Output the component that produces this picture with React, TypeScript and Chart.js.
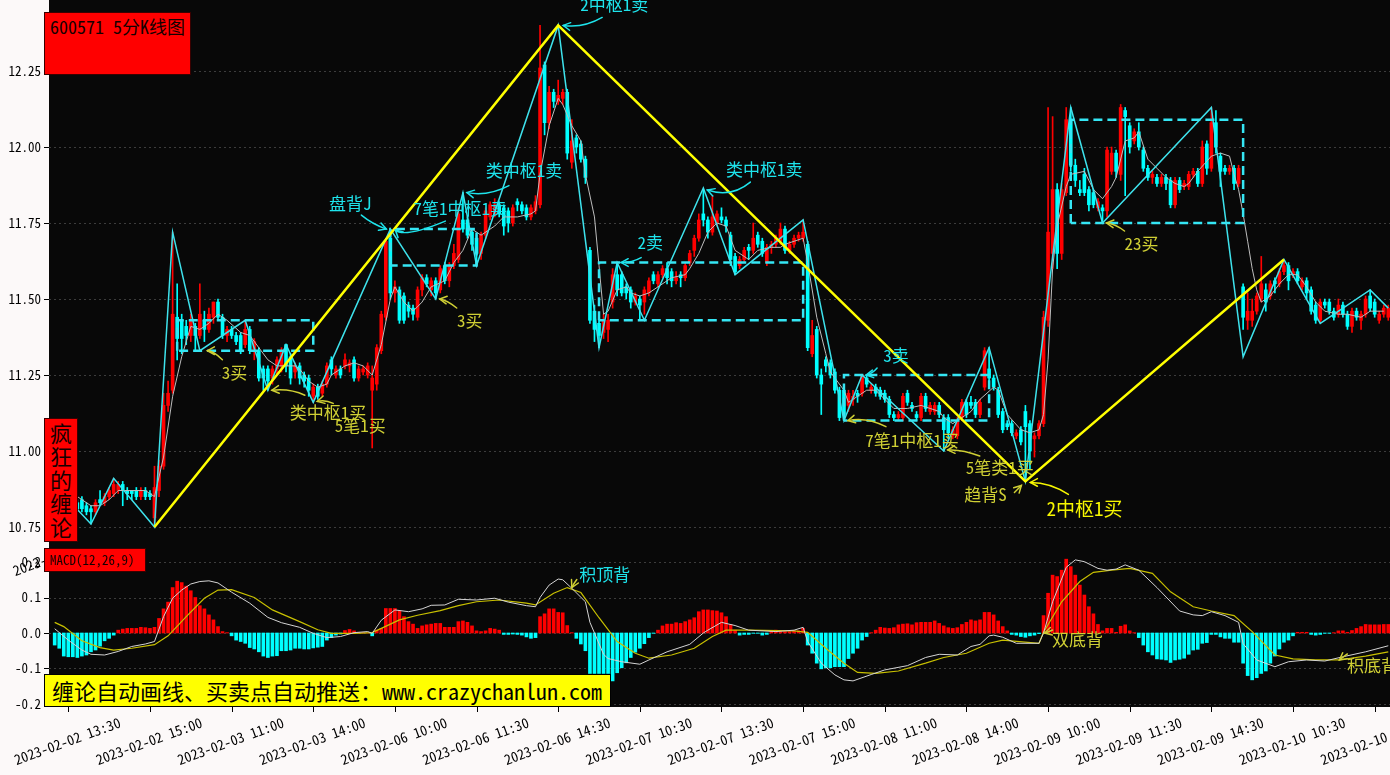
import React, { useEffect, useRef } from "react";
import { Chart, registerables } from "chart.js";
Chart.register(...registerables);

// ---------------- DATA ----------------
const FIRST_BAR = -3; // bar index of the first candle (index 0 = 2023-02-02 13:30)

const opens = [
  10.86,10.84,10.83,10.84,10.82,10.83,10.84,10.82,10.81,10.80,
  10.84,10.83,10.85,10.86,10.87,10.89,10.87,10.87,10.87,10.85,
  10.87,10.86,10.78,10.87,10.95,11.15,11.20,11.44,11.43,11.41,
  11.38,11.41,11.38,11.43,11.40,11.44,11.49,11.44,11.38,11.40,
  11.38,11.38,11.35,11.40,11.33,11.33,11.27,11.27,11.24,11.27,
  11.28,11.35,11.31,11.26,11.28,11.25,11.24,11.18,11.21,11.19,
  11.22,11.30,11.25,11.27,11.28,11.28,11.30,11.24,11.26,11.25,
  11.20,11.22,11.33,11.44,11.70,11.52,11.53,11.51,11.48,11.47,
  11.44,11.53,11.57,11.53,11.56,11.53,11.61,11.56,11.61,11.63,
  11.76,11.76,11.72,11.70,11.65,11.71,11.77,11.78,11.81,11.80,
  11.79,11.75,11.82,11.81,11.80,11.77,11.79,11.81,12.27,12.08,
  12.18,12.15,12.16,12.18,11.95,12.03,12.01,11.96,11.66,11.46,
  11.42,11.39,11.40,11.49,11.58,11.58,11.54,11.53,11.49,11.50,
  11.49,11.52,11.58,11.55,11.58,11.60,11.59,11.56,11.58,11.57,
  11.62,11.66,11.70,11.78,11.76,11.72,11.75,11.77,11.76,11.71,
  11.64,11.61,11.63,11.67,11.66,11.71,11.69,11.62,11.67,11.68,
  11.69,11.73,11.66,11.68,11.70,11.70,11.68,11.32,11.40,11.25,
  11.30,11.29,11.26,11.20,11.20,11.15,11.17,11.19,11.19,11.24,
  11.20,11.21,11.20,11.19,11.17,11.12,11.11,11.11,11.19,11.15,
  11.12,11.11,11.18,11.13,11.13,11.15,11.11,11.11,11.05,11.05,
  11.11,11.16,11.16,11.16,11.12,11.21,11.27,11.24,11.20,11.13,
  11.09,11.09,11.05,11.07,11.13,11.09,11.04,11.05,11.09,11.43,
  11.65,11.86,11.65,11.85,12.09,11.94,11.86,11.91,11.86,11.85,
  11.80,11.80,11.79,11.92,11.98,11.91,12.12,12.07,12.02,12.05,
  11.99,11.93,11.90,11.90,11.88,11.90,11.89,11.81,11.89,11.87,
  11.87,11.91,11.92,11.88,12.01,11.93,12.08,11.97,11.93,11.92,
  11.93,11.88,11.54,11.43,11.43,11.46,11.50,11.53,11.51,11.56,
  11.55,11.59,11.61,11.58,11.59,11.54,11.56,11.53,11.48,11.43,
  11.49,11.49,11.46,11.45,11.48,11.45,11.41,11.46,11.43,11.45,
  11.51,11.49,11.43,11.45,11.44,
];
const highs = [
  10.87,10.85,10.85,10.85,10.84,10.84,10.85,10.83,10.82,10.84,
  10.87,10.86,10.88,10.91,10.90,10.90,10.88,10.87,10.88,10.88,
  10.88,10.87,10.95,10.97,11.19,11.23,11.72,11.55,11.45,11.43,
  11.45,11.42,11.55,11.46,11.47,11.49,11.50,11.45,11.41,11.41,
  11.39,11.39,11.43,11.41,11.37,11.34,11.28,11.28,11.28,11.31,
  11.34,11.35,11.32,11.29,11.29,11.26,11.25,11.22,11.22,11.23,
  11.29,11.31,11.28,11.28,11.32,11.30,11.31,11.28,11.28,11.29,
  11.28,11.35,11.46,11.70,11.73,11.56,11.54,11.52,11.49,11.48,
  11.54,11.58,11.58,11.57,11.57,11.61,11.62,11.62,11.68,11.80,
  11.85,11.77,11.73,11.71,11.72,11.80,11.82,11.83,11.82,11.81,
  11.80,11.81,11.83,11.82,11.81,11.81,11.84,12.40,12.28,12.20,
  12.19,12.22,12.19,12.19,12.09,12.04,12.02,11.97,11.67,11.48,
  11.44,11.45,11.45,11.60,11.62,11.59,11.55,11.54,11.52,11.51,
  11.54,11.57,11.59,11.59,11.61,11.62,11.60,11.59,11.59,11.62,
  11.66,11.71,11.78,11.86,11.77,11.84,11.79,11.80,11.77,11.72,
  11.65,11.64,11.67,11.68,11.75,11.72,11.70,11.68,11.69,11.71,
  11.75,11.74,11.69,11.71,11.72,11.76,11.69,11.43,11.41,11.27,
  11.31,11.30,11.27,11.21,11.21,11.20,11.20,11.20,11.25,11.25,
  11.22,11.22,11.21,11.20,11.18,11.13,11.13,11.19,11.20,11.16,
  11.13,11.19,11.19,11.16,11.16,11.16,11.12,11.12,11.08,11.11,
  11.17,11.17,11.18,11.17,11.17,11.34,11.34,11.25,11.21,11.14,
  11.10,11.10,11.07,11.08,11.15,11.10,11.06,11.10,11.46,12.13,
  12.10,11.88,11.88,12.13,12.13,11.96,11.89,11.93,11.87,11.86,
  11.83,11.81,12.00,12.00,11.99,12.14,12.13,12.08,12.06,12.08,
  12.00,11.94,11.92,11.91,11.91,11.91,11.90,11.90,11.90,11.89,
  11.92,11.93,11.93,12.02,12.02,12.13,12.12,11.98,11.94,11.94,
  11.94,11.94,11.55,11.52,11.50,11.52,11.64,11.55,11.56,11.57,
  11.60,11.63,11.62,11.60,11.60,11.57,11.57,11.54,11.49,11.50,
  11.50,11.50,11.47,11.50,11.49,11.46,11.47,11.47,11.46,11.51,
  11.53,11.50,11.46,11.48,11.48,
];
const lows = [
  10.83,10.82,10.82,10.81,10.80,10.80,10.80,10.79,10.76,10.79,
  10.82,10.82,10.84,10.85,10.86,10.82,10.84,10.84,10.84,10.84,
  10.84,10.84,10.75,10.85,10.94,11.13,11.19,11.30,11.32,11.35,
  11.36,11.33,11.37,11.36,11.39,11.42,11.43,11.37,11.36,11.37,
  11.35,11.32,11.34,11.32,11.30,11.23,11.20,11.20,11.22,11.25,
  11.26,11.26,11.22,11.24,11.22,11.21,11.18,11.16,11.17,11.18,
  11.21,11.25,11.24,11.24,11.27,11.26,11.23,11.23,11.25,11.24,
  11.01,11.20,11.32,11.43,11.50,11.49,11.42,11.42,11.44,11.43,
  11.43,11.51,11.54,11.51,11.50,11.52,11.55,11.54,11.60,11.62,
  11.72,11.70,11.66,11.61,11.63,11.70,11.76,11.77,11.77,11.71,
  11.72,11.74,11.79,11.78,11.76,11.76,11.78,11.80,12.04,12.06,
  12.13,12.14,12.14,11.96,11.93,11.98,11.95,11.88,11.42,11.36,
  11.34,11.37,11.36,11.47,11.51,11.51,11.50,11.47,11.48,11.43,
  11.45,11.51,11.55,11.54,11.57,11.55,11.54,11.55,11.54,11.56,
  11.61,11.64,11.69,11.74,11.70,11.71,11.74,11.75,11.72,11.61,
  11.58,11.60,11.62,11.63,11.65,11.67,11.64,11.61,11.65,11.67,
  11.68,11.65,11.65,11.67,11.69,11.69,11.33,11.31,11.24,11.12,
  11.26,11.24,11.19,11.10,11.10,11.13,11.15,11.16,11.18,11.21,
  11.19,11.18,11.17,11.16,11.11,11.10,11.10,11.10,11.15,11.13,
  11.10,11.10,11.13,11.12,11.12,11.11,11.00,11.04,11.04,11.04,
  11.10,11.11,11.14,11.11,11.11,11.20,11.22,11.20,11.11,11.06,
  11.07,11.05,11.04,11.02,10.90,10.94,10.98,11.04,11.08,11.41,
  11.60,11.60,11.63,11.84,11.92,11.87,11.84,11.84,11.79,11.80,
  11.79,11.75,11.77,11.91,11.90,11.89,11.84,11.98,12.01,11.99,
  11.92,11.89,11.88,11.87,11.87,11.86,11.80,11.80,11.85,11.86,
  11.86,11.90,11.87,11.87,11.91,11.92,11.98,11.87,11.91,11.91,
  11.86,11.87,11.40,11.40,11.41,11.45,11.49,11.46,11.50,11.52,
  11.54,11.58,11.53,11.57,11.55,11.53,11.50,11.45,11.42,11.42,
  11.47,11.45,11.43,11.44,11.44,11.40,11.39,11.43,11.40,11.44,
  11.46,11.44,11.42,11.44,11.43,
];
const closes = [
  10.84,10.83,10.84,10.82,10.83,10.81,10.81,10.80,10.80,10.83,
  10.83,10.85,10.87,10.89,10.89,10.87,10.86,10.86,10.85,10.87,
  10.85,10.85,10.88,10.95,11.15,11.19,11.45,11.37,11.37,11.38,
  11.43,11.38,11.45,11.40,11.45,11.49,11.44,11.38,11.40,11.38,
  11.36,11.33,11.40,11.33,11.36,11.24,11.24,11.23,11.27,11.30,
  11.33,11.28,11.24,11.28,11.24,11.23,11.20,11.21,11.18,11.22,
  11.28,11.27,11.27,11.25,11.30,11.29,11.24,11.27,11.27,11.28,
  11.24,11.34,11.45,11.69,11.52,11.54,11.43,11.43,11.46,11.45,
  11.53,11.57,11.55,11.56,11.52,11.60,11.56,11.61,11.65,11.78,
  11.73,11.71,11.68,11.65,11.71,11.79,11.81,11.81,11.78,11.74,
  11.75,11.80,11.81,11.79,11.77,11.80,11.82,12.26,12.08,12.18,
  12.15,12.17,12.18,11.98,12.02,12.00,11.96,11.90,11.43,11.40,
  11.38,11.43,11.43,11.58,11.53,11.52,11.52,11.49,11.51,11.48,
  11.53,11.56,11.56,11.58,11.60,11.57,11.56,11.57,11.57,11.61,
  11.65,11.70,11.76,11.76,11.72,11.77,11.78,11.76,11.74,11.63,
  11.59,11.63,11.66,11.66,11.70,11.68,11.65,11.67,11.68,11.70,
  11.73,11.66,11.68,11.70,11.71,11.72,11.34,11.38,11.25,11.22,
  11.28,11.25,11.20,11.11,11.12,11.19,11.18,11.18,11.25,11.22,
  11.21,11.19,11.18,11.17,11.12,11.11,11.12,11.18,11.16,11.14,
  11.11,11.18,11.14,11.15,11.15,11.12,11.07,11.06,11.07,11.10,
  11.16,11.12,11.15,11.12,11.16,11.33,11.24,11.21,11.12,11.07,
  11.08,11.06,11.06,11.03,11.08,11.00,11.05,11.09,11.44,11.72,
  11.86,11.65,11.86,12.09,11.94,11.89,11.85,11.85,11.81,11.81,
  11.82,11.79,11.99,11.98,11.92,12.13,12.10,12.00,12.05,12.00,
  11.93,11.90,11.91,11.88,11.90,11.88,11.81,11.89,11.86,11.88,
  11.91,11.92,11.88,12.00,11.93,12.08,12.00,11.92,11.92,11.93,
  11.88,11.93,11.44,11.46,11.46,11.51,11.55,11.49,11.55,11.55,
  11.59,11.61,11.56,11.59,11.56,11.56,11.52,11.46,11.43,11.49,
  11.48,11.46,11.44,11.48,11.45,11.41,11.46,11.44,11.45,11.50,
  11.47,11.45,11.45,11.47,11.47,
];

// gray moving-average line (bar index, price)
const maIdx = [2,5,7,9,11,14,17,19,21,23,25,27,29,31,33,35,38,40,42,44,46,48,50,51,53,55,57,58,61,63,65,67,69,71,72,74,76,78,80,83,85,87,89,91,94,96,99,102,103,104,106,108,109,111,113,114,116,117,118,119,121,123,124,126,128,130,133,136,137,139,141,143,145,147,149,150,152,155,157,158,160,162,163,165,167,168,171,172,174,176,178,180,182,185,188,190,192,193,195,197,199,201,204,205,207,210,212,214,215,216,217,218,220,221,224,226,228,230,231,233,235,236,238,240,242,244,246,247,249,252,254,256,257,258,259,260,261,262,263,265,267,269,271,273,275,277,280,282,285,287,290];
const maVal = [10.85,10.82,10.82,10.84,10.87,10.87,10.87,10.85,10.98,11.18,11.31,11.41,11.40,11.42,11.45,11.43,11.39,11.38,11.34,11.30,11.28,11.28,11.28,11.27,11.23,11.21,11.22,11.25,11.28,11.29,11.28,11.25,11.35,11.50,11.54,11.49,11.46,11.49,11.54,11.56,11.62,11.66,11.73,11.71,11.74,11.77,11.77,11.78,11.79,11.91,12.07,12.16,12.14,12.07,12.02,11.91,11.77,11.61,11.45,11.46,11.53,11.54,11.52,11.51,11.52,11.54,11.57,11.58,11.60,11.65,11.72,11.75,11.74,11.66,11.64,11.63,11.66,11.67,11.67,11.68,11.69,11.70,11.62,11.44,11.32,11.26,11.20,11.16,11.18,11.20,11.20,11.17,11.14,11.14,11.15,11.14,11.13,11.11,11.09,11.11,11.13,11.17,11.21,11.20,11.12,11.07,11.06,11.07,11.12,11.30,11.60,11.74,11.87,11.91,11.92,11.86,11.83,11.87,11.90,12.02,12.03,12.05,11.96,11.93,11.90,11.88,11.87,11.88,11.92,11.97,11.98,11.97,11.91,11.86,11.78,11.69,11.60,11.53,11.49,11.51,11.55,11.58,11.58,11.54,11.49,11.46,11.45,11.45,11.44,11.46,11.46];

// 笔 (strokes) vertices
const biIdx = [0,5,10,19,23,29,39,44,48,54,71,81,87,90,108,117,121,127,140,147,162,171,175,193,203,211,221,228,252,259,268,276,287,291];
const biVal = [10.84,10.76,10.91,10.75,11.72,11.33,11.43,11.20,11.35,11.16,11.73,11.50,11.85,11.61,12.40,11.34,11.62,11.43,11.865,11.58,11.76,11.10,11.25,11.00,11.34,10.90,12.13,11.75,12.13,11.31,11.63,11.42,11.53,11.47];

// 线段 (segments) vertices
const segIdx = [19, 108, 211, 268];
const segVal = [10.75, 12.40, 10.90, 11.63];

// 中枢 boxes
const zsStart = [24, 71, 117, 171, 221];
const zsEnd = [54, 90, 162, 203, 259];
const zsLow = [11.33, 11.61, 11.43, 11.10, 11.75];
const zsHigh = [11.43, 11.73, 11.62, 11.25, 12.09];

// buy / sell point labels
const chanLabels = ["2中枢1卖","盘背J","7笔1中枢1卖","类中枢1卖","2卖","类中枢1卖","3卖","3买","3买","类中枢1买","5笔1买","7笔1中枢1买","5笔类1买","趋背S","2中枢1买","23买"];
const chanIdx = [108, 71, 71, 87, 121, 140, 175, 30, 81, 44, 54, 171, 193, 211, 211, 228];
const chanPrice = [12.40, 11.73, 11.73, 11.85, 11.62, 11.865, 11.25, 11.33, 11.50, 11.20, 11.16, 11.10, 11.00, 10.90, 10.90, 11.75];

// MACD(12,26,9)
const macdHist = [
  -0.034,-0.043,-0.065,-0.067,-0.067,-0.069,-0.065,-0.062,-0.053,-0.048,
  -0.037,-0.022,-0.015,-0.006,0.008,0.011,0.013,0.013,0.013,0.016,
  0.015,0.013,0.016,0.041,0.068,0.087,0.128,0.146,0.142,0.132,
  0.119,0.100,0.077,0.068,0.051,0.037,0.018,0.004,0.001,-0.008,
  -0.020,-0.024,-0.029,-0.041,-0.045,-0.053,-0.065,-0.069,-0.065,-0.064,
  -0.050,-0.050,-0.048,-0.043,-0.043,-0.045,-0.045,-0.042,-0.040,-0.038,
  -0.020,-0.013,-0.006,-0.003,0.007,0.010,0.006,0.002,0.001,0.000,
  -0.008,0.008,0.013,0.069,0.069,0.069,0.063,0.046,0.032,0.025,
  0.013,0.020,0.023,0.025,0.027,0.027,0.016,0.016,0.016,0.032,
  0.034,0.030,0.020,0.006,0.004,0.006,0.013,0.011,0.008,-0.004,
  -0.004,-0.003,-0.004,-0.006,-0.011,-0.015,-0.013,0.046,0.054,0.068,
  0.068,0.058,0.057,0.021,0.001,-0.015,-0.031,-0.050,-0.114,-0.114,
  -0.114,-0.114,-0.114,-0.135,-0.112,-0.098,-0.084,-0.069,-0.054,-0.043,
  -0.030,-0.013,-0.001,0.008,0.020,0.025,0.025,0.029,0.027,0.032,
  0.037,0.043,0.060,0.065,0.065,0.063,0.062,0.057,0.046,0.024,
  0.008,-0.006,-0.004,-0.004,-0.001,-0.001,-0.006,-0.004,0.006,0.008,
  0.004,0.004,0.004,0.006,0.006,0.013,-0.034,-0.057,-0.085,-0.101,
  -0.098,-0.098,-0.095,-0.095,-0.095,-0.072,-0.057,-0.043,-0.020,-0.010,
  0.001,0.008,0.016,0.014,0.013,0.015,0.023,0.025,0.026,0.023,
  0.029,0.030,0.030,0.030,0.034,0.027,0.020,0.015,0.013,0.015,
  0.024,0.030,0.037,0.034,0.037,0.058,0.058,0.051,0.034,0.018,
  0.006,-0.004,-0.006,-0.010,-0.012,-0.008,-0.006,-0.002,0.049,0.112,
  0.163,0.159,0.177,0.208,0.187,0.163,0.135,0.107,0.074,0.054,
  0.024,0.006,0.013,0.013,0.002,0.019,0.023,0.006,0.001,-0.013,
  -0.034,-0.053,-0.062,-0.073,-0.074,-0.076,-0.083,-0.076,-0.074,-0.071,
  -0.060,-0.048,-0.046,-0.029,-0.027,-0.004,-0.004,-0.011,-0.015,-0.015,
  -0.026,-0.026,-0.085,-0.120,-0.132,-0.126,-0.114,-0.107,-0.085,-0.065,
  -0.045,-0.026,-0.020,-0.008,0.002,0.002,0.002,-0.004,-0.006,-0.004,
  -0.001,-0.001,0.001,0.006,0.006,0.002,0.007,0.013,0.018,0.024,
  0.023,0.023,0.023,0.024,0.024,
];
const difIdx = [-3,0,3,5,8,11,14,17,19,21,23,25,27,29,31,33,36,40,44,47,51,54,57,60,63,66,67,69,72,75,78,80,83,86,90,94,97,101,103,104,106,108,109,111,114,115,116,118,119,122,126,128,132,137,140,141,144,147,150,156,160,162,163,166,169,171,173,177,180,185,189,192,196,199,201,203,204,206,209,214,215,217,220,222,224,227,229,231,233,236,240,245,248,250,252,255,258,259,262,266,269,273,277,281,286,291];
const difVal = [0.012,-0.020,-0.048,-0.060,-0.062,-0.052,-0.038,-0.031,-0.024,0.046,0.098,0.121,0.138,0.145,0.147,0.141,0.115,0.084,0.044,0.029,0.016,-0.001,-0.013,-0.010,0.001,0.004,-0.001,0.036,0.065,0.060,0.068,0.078,0.079,0.095,0.093,0.098,0.087,0.077,0.074,0.100,0.135,0.152,0.150,0.126,0.088,0.030,0.000,-0.060,-0.072,-0.081,-0.088,-0.076,-0.053,-0.032,0.000,0.008,0.030,0.021,0.008,0.004,0.008,0.016,-0.024,-0.085,-0.118,-0.132,-0.135,-0.117,-0.104,-0.092,-0.069,-0.060,-0.062,-0.038,-0.032,-0.008,-0.006,-0.012,-0.029,-0.029,0.000,0.088,0.185,0.206,0.201,0.182,0.177,0.180,0.192,0.177,0.128,0.062,0.051,0.049,0.060,0.049,0.030,-0.030,-0.076,-0.095,-0.081,-0.076,-0.079,-0.067,-0.053,-0.036];
const deaIdx = [-3,-1,3,7,10,14,19,22,26,30,33,36,41,45,51,55,58,63,67,69,73,77,82,86,90,95,101,103,107,110,113,117,121,125,128,133,138,142,145,150,160,163,167,171,174,178,183,189,193,198,203,206,214,215,219,223,226,230,234,239,243,248,252,257,261,266,270,275,280,286,291];
const deaVal = [0.030,0.018,-0.022,-0.041,-0.048,-0.043,-0.033,-0.008,0.046,0.098,0.121,0.122,0.100,0.065,0.032,0.009,-0.001,-0.001,0.001,0.013,0.037,0.050,0.063,0.077,0.088,0.093,0.084,0.079,0.112,0.128,0.114,0.043,-0.024,-0.057,-0.071,-0.062,-0.043,-0.010,0.008,0.008,0.006,0.002,-0.043,-0.085,-0.111,-0.114,-0.107,-0.085,-0.069,-0.057,-0.029,-0.020,-0.029,0.002,0.088,0.145,0.171,0.177,0.182,0.168,0.116,0.074,0.062,0.049,0.004,-0.062,-0.073,-0.076,-0.076,-0.065,-0.053];

const macdNotes = ["积顶背", "双底背", "积底背"];
const macdNoteIdx = [111, 215, 280];
const macdNoteVal = [0.128, 0.0, -0.076];

// axis ticks
const xTickIdx = [0,18,36,54,72,90,108,126,144,162,180,198,216,234,252,270,288];
const xTickLabels = [
  "2023-02-02 13:30","2023-02-02 15:00","2023-02-03 11:00","2023-02-03 14:00",
  "2023-02-06 10:00","2023-02-06 11:30","2023-02-06 14:30","2023-02-07 10:30",
  "2023-02-07 13:30","2023-02-07 15:00","2023-02-08 11:00","2023-02-08 14:00",
  "2023-02-09 10:00","2023-02-09 11:30","2023-02-09 14:30","2023-02-10 10:30",
  "2023-02-10 13:30",
];
const priceTicks = [10.75, 11.0, 11.25, 11.5, 11.75, 12.0, 12.25];
const macdTicks = [-0.2, -0.1, 0.0, 0.1, 0.2];

// ---------------- STYLE ----------------
const PAGE_BG = "#fcf9f9";
const PLOT_BG = "#080808";
const GRID = "#3c3c3c";
const UP = "#ff0000";
const DOWN = "#00ffff";
const BI_COLOR = "#3ee2ec";
const ZS_COLOR = "#35e6f4";
const CY = "#1ee4ec";
const YL = "#cfcf34";
const YB = "#f6f600";
const FONT = '"Noto Sans Mono CJK SC", "Noto Sans CJK SC", sans-serif';
const X_MIN = -4.255, X_MAX = 291.38;
const P_MIN = 10.6678, P_MAX = 12.4836;
const M_MIN = -0.2085, M_MAX = 0.2282;

const chanStyles = [
  { c: CY, f: 17, t: [56, -21], s: [44, -8], q: [25, 3], e: [5, 0] },
  { c: CY, f: 17, t: [-40, -26], s: [-29, -14], q: [-18, -5], e: [-4, 0] },
  { c: CY, f: 17, t: [70, -21], s: [55, -8], q: [14, 9], e: [5, 1] },
  { c: CY, f: 17, t: [61, -22], s: [46, -7], q: [25, 4], e: [4, 0] },
  { c: CY, f: 17, t: [33, -20], s: [24, -5], q: [15, 0], e: [4, 0] },
  { c: CY, f: 17, t: [61, -19], s: [47, -6], q: [28, 10], e: [4, 2] },
  { c: CY, f: 17, t: [34, -19], s: [15, -7], q: [10, -1], e: [4, 0] },
  { c: YL, f: 17, t: [30, 22], s: [18, 9], q: [9, 0], e: [3, 0] },
  { c: YL, f: 17, t: [34, 22], s: [21, 9], q: [11, 1], e: [4, 0] },
  { c: YL, f: 17, t: [60, 22], s: [37, 5], q: [22, -2], e: [4, 0] },
  { c: YL, f: 17, t: [47, 23], s: [20, 1], q: [12, -3], e: [4, -1] },
  { c: YL, f: 17, t: [68, 20], s: [42, 6], q: [22, -4], e: [4, 0] },
  { c: YL, f: 17, t: [56, 17], s: [36, 5], q: [18, -2], e: [4, -1] },
  { c: YL, f: 17, t: [-40, 13], s: [-11, 11], q: [-8, 8], e: [-4, 4] },
  { c: YB, f: 19, t: [59, 27], s: [43, 13], q: [25, 1], e: [5, 1] },
  { c: YL, f: 17, t: [39, 21], s: [22, 8], q: [13, 1], e: [4, 0] },
];
const macdNoteStyles = [
  { tc: CY, ac: YL, t: [33, -13], s: [5, -8], q: [2, -4], e: [0, 0] },
  { tc: YL, ac: YL, t: [34, 7], s: [9, -3], q: [5, -1], e: [1, 0] },
  { tc: YL, ac: YL, t: [34, 6], s: [9, -6], q: [5, -3], e: [1, 0] },
];

function drawCurvedArrow(ctx: any, sx: number, sy: number, qx: number, qy: number, ex: number, ey: number, color: string) {
  ctx.save();
  ctx.strokeStyle = color;
  ctx.lineWidth = 1.5;
  ctx.lineCap = "round";
  ctx.beginPath();
  ctx.moveTo(sx, sy);
  ctx.quadraticCurveTo(qx, qy, ex, ey);
  ctx.stroke();
  let dx = ex - qx, dy = ey - qy;
  if (Math.hypot(dx, dy) < 0.5) { dx = ex - sx; dy = ey - sy; }
  const ang = Math.atan2(dy, dx);
  const L = 8, sp = 0.5;
  ctx.beginPath();
  ctx.moveTo(ex - L * Math.cos(ang - sp), ey - L * Math.sin(ang - sp));
  ctx.lineTo(ex, ey);
  ctx.lineTo(ex - L * Math.cos(ang + sp), ey - L * Math.sin(ang + sp));
  ctx.stroke();
  ctx.restore();
}

function pts(ix: number[], vals: number[]) {
  return ix.map((x, k) => ({ x, y: vals[k] }));
}

export default function App() {
  const mainRef = useRef<HTMLCanvasElement>(null);
  const macdRef = useRef<HTMLCanvasElement>(null);

  useEffect(() => {
    const barIdx = opens.map((_, k) => FIRST_BAR + k);
    const candleColors = barIdx.map((_, k) => (closes[k] >= opens[k] ? UP : DOWN));
    const wickData = barIdx.map((x, k) => ({ x, y: [lows[k], highs[k]] }));
    const bodyData = barIdx.map((x, k) => ({
      x,
      y: [Math.min(opens[k], closes[k]), Math.max(opens[k], closes[k])],
    }));
    const zsDatasets = zsStart.map((s, k) => ({
      type: "line",
      data: [
        { x: s, y: zsLow[k] }, { x: s, y: zsHigh[k] }, { x: zsEnd[k], y: zsHigh[k] },
        { x: zsEnd[k], y: zsLow[k] }, { x: s, y: zsLow[k] },
      ],
      borderColor: ZS_COLOR,
      borderWidth: 2.5,
      borderDash: [9, 5],
      pointRadius: 0,
      fill: false,
      order: 3,
    }));

    const mainPlugin = {
      id: "mainDeco",
      beforeDraw(chart: any) {
        const { ctx, chartArea: a } = chart;
        const ys = chart.scales.y;
        ctx.save();
        ctx.fillStyle = PAGE_BG;
        ctx.fillRect(0, 0, chart.width, chart.height);
        ctx.fillStyle = PLOT_BG;
        ctx.fillRect(a.left, 0, chart.width - a.left, chart.height);
        ctx.strokeStyle = GRID;
        ctx.lineWidth = 1;
        ctx.setLineDash([2, 3]);
        priceTicks.forEach((v) => {
          const py = Math.round(ys.getPixelForValue(v)) + 0.5;
          ctx.beginPath(); ctx.moveTo(a.left, py); ctx.lineTo(a.right, py); ctx.stroke();
        });
        ctx.setLineDash([]);
        ctx.fillStyle = "#000";
        ctx.strokeStyle = "#000";
        ctx.font = `13px ${FONT}`;
        ctx.textAlign = "right";
        ctx.textBaseline = "middle";
        priceTicks.forEach((v) => {
          const py = ys.getPixelForValue(v);
          ctx.fillText(v.toFixed(2), 41, py);
          ctx.beginPath(); ctx.moveTo(44, Math.round(py) + 0.5); ctx.lineTo(a.left, Math.round(py) + 0.5); ctx.stroke();
        });
        ctx.restore();
      },
      afterDatasetsDraw(chart: any) {
        const { ctx } = chart;
        const xs = chart.scales.x, ys = chart.scales.y;
        ctx.save();
        ctx.textAlign = "center";
        ctx.textBaseline = "middle";
        chanLabels.forEach((label, k) => {
          const st = chanStyles[k];
          const ax = xs.getPixelForValue(chanIdx[k]);
          const ay = ys.getPixelForValue(chanPrice[k]);
          drawCurvedArrow(ctx, ax + st.s[0], ay + st.s[1], ax + st.q[0], ay + st.q[1], ax + st.e[0], ay + st.e[1], st.c);
          ctx.font = `${st.f}px ${FONT}`;
          ctx.fillStyle = st.c;
          ctx.fillText(label, ax + st.t[0], ay + st.t[1]);
        });
        ctx.restore();
      },
    };

    const macdPlugin = {
      id: "macdDeco",
      beforeDraw(chart: any) {
        const { ctx, chartArea: a } = chart;
        const xs = chart.scales.x, ys = chart.scales.y;
        ctx.save();
        ctx.fillStyle = PAGE_BG;
        ctx.fillRect(0, 0, chart.width, chart.height);
        // hidden x label of the upper panel, only its start shows at the left
        ctx.fillStyle = "#000";
        ctx.font = `14px ${FONT}`;
        ctx.textAlign = "center";
        ctx.textBaseline = "middle";
        ctx.save();
        ctx.translate(66, 0);
        ctx.rotate((-20 * Math.PI) / 180);
        ctx.fillText(xTickLabels[0], 0, 0);
        ctx.restore();
        ctx.fillStyle = PLOT_BG;
        ctx.fillRect(a.left, 0, chart.width - a.left, a.bottom);
        ctx.strokeStyle = GRID;
        ctx.lineWidth = 1;
        ctx.setLineDash([2, 3]);
        macdTicks.forEach((v) => {
          const py = Math.round(ys.getPixelForValue(v)) + 0.5;
          ctx.beginPath(); ctx.moveTo(a.left, py); ctx.lineTo(a.right, py); ctx.stroke();
        });
        ctx.setLineDash([]);
        ctx.fillStyle = "#000";
        ctx.strokeStyle = "#000";
        ctx.font = `13px ${FONT}`;
        ctx.textAlign = "right";
        ctx.textBaseline = "middle";
        macdTicks.forEach((v) => {
          const py = ys.getPixelForValue(v);
          ctx.fillText(v.toFixed(1), 41, py);
          ctx.beginPath(); ctx.moveTo(44, Math.round(py) + 0.5); ctx.lineTo(a.left, Math.round(py) + 0.5); ctx.stroke();
        });
        // x ticks and rotated labels
        ctx.font = `14px ${FONT}`;
        ctx.textAlign = "center";
        xTickIdx.forEach((ti, k) => {
          const px = xs.getPixelForValue(ti);
          ctx.beginPath(); ctx.moveTo(Math.round(px) + 0.5, a.bottom); ctx.lineTo(Math.round(px) + 0.5, a.bottom + 5); ctx.stroke();
          ctx.save();
          ctx.translate(px - 1, a.bottom + 34);
          ctx.rotate((-20 * Math.PI) / 180);
          ctx.fillText(xTickLabels[k], 0, 0);
          ctx.restore();
        });
        ctx.restore();
      },
      afterDatasetsDraw(chart: any) {
        const { ctx } = chart;
        const xs = chart.scales.x, ys = chart.scales.y;
        ctx.save();
        ctx.font = `17px ${FONT}`;
        ctx.textAlign = "center";
        ctx.textBaseline = "middle";
        macdNotes.forEach((label, k) => {
          const st = macdNoteStyles[k];
          const ax = xs.getPixelForValue(macdNoteIdx[k]);
          const ay = ys.getPixelForValue(macdNoteVal[k]);
          drawCurvedArrow(ctx, ax + st.s[0], ay + st.s[1], ax + st.q[0], ay + st.q[1], ax + st.e[0], ay + st.e[1], st.ac);
          ctx.fillStyle = st.tc;
          ctx.fillText(label, ax + st.t[0], ay + st.t[1]);
        });
        ctx.restore();
      },
    };

    const common = {
      responsive: false,
      animation: false,
      devicePixelRatio: 1,
      events: [],
      plugins: { legend: { display: false }, tooltip: { enabled: false } },
    };

    const mainChart = new Chart(mainRef.current as HTMLCanvasElement, {
      type: "bar",
      data: {
        datasets: [
          { type: "line", data: pts(segIdx, segVal), borderColor: "#ffff00", borderWidth: 2.5, pointRadius: 0, order: 1 },
          { type: "line", data: pts(biIdx, biVal), borderColor: BI_COLOR, borderWidth: 1.5, pointRadius: 0, order: 2 },
          ...zsDatasets,
          { type: "line", data: pts(maIdx, maVal), borderColor: "#bdbdbd", borderWidth: 1, pointRadius: 0, order: 4 },
          { type: "bar", data: bodyData, backgroundColor: candleColors, borderWidth: 0, barThickness: 3, grouped: false, minBarLength: 1, order: 5 },
          { type: "bar", data: wickData, backgroundColor: candleColors, borderWidth: 0, barThickness: 1, grouped: false, order: 6 },
        ] as any,
      },
      options: {
        ...common,
        layout: { padding: { left: 49, top: 0, right: 0, bottom: 0 } },
        scales: {
          x: { type: "linear", min: X_MIN, max: X_MAX, display: false, offset: false },
          y: { type: "linear", min: P_MIN, max: P_MAX, display: false, beginAtZero: false },
        },
      } as any,
      plugins: [mainPlugin],
    });

    const histData = macdHist.map((v, k) => ({ x: FIRST_BAR + k, y: v }));
    const histColors = macdHist.map((v) => (v >= 0 ? UP : DOWN));
    const macdChart = new Chart(macdRef.current as HTMLCanvasElement, {
      type: "bar",
      data: {
        datasets: [
          { type: "line", data: pts(difIdx, difVal), borderColor: "#d4d4d4", borderWidth: 1, pointRadius: 0, order: 1 },
          { type: "line", data: pts(deaIdx, deaVal), borderColor: "#c8c000", borderWidth: 1.2, pointRadius: 0, order: 2 },
          { type: "bar", data: histData, backgroundColor: histColors, borderWidth: 0, barThickness: 3, grouped: false, order: 3 },
        ] as any,
      },
      options: {
        ...common,
        layout: { padding: { left: 49, top: 0, right: 0, bottom: 68 } },
        scales: {
          x: { type: "linear", min: X_MIN, max: X_MAX, display: false, offset: false },
          y: { type: "linear", min: M_MIN, max: M_MAX, display: false, beginAtZero: false },
        },
      } as any,
      plugins: [macdPlugin],
    });

    return () => {
      mainChart.destroy();
      macdChart.destroy();
    };
  }, []);

  const redBox: any = {
    position: "absolute",
    background: "#ff0000",
    border: "1px solid #3a0000",
    boxSizing: "border-box",
    color: "#150000",
    fontFamily: FONT,
    whiteSpace: "nowrap",
    overflow: "hidden",
  };

  return (
    <div style={{ position: "fixed", left: 0, top: 0, width: 1390, height: 775, background: PAGE_BG, overflow: "hidden" }}>
      <canvas ref={mainRef} width={1390} height={552} style={{ position: "absolute", left: 0, top: 0, display: "block" }} />
      <canvas ref={macdRef} width={1390} height={223} style={{ position: "absolute", left: 0, top: 552, display: "block" }} />
      <div style={{ ...redBox, left: 44, top: 12, width: 147, height: 63, fontSize: 18, lineHeight: "20px", padding: "3px 0 0 5px" }}>
        600571 5分K线图
      </div>
      <div style={{ ...redBox, left: 44, top: 418, width: 34, height: 124, whiteSpace: "normal", paddingTop: 2 }}>
        <div style={{ width: 22, margin: "0 auto", fontSize: 22, lineHeight: "23.4px", wordBreak: "break-all" }}>疯狂的缠论</div>
      </div>
      <div style={{ ...redBox, left: 44, top: 548, width: 102, height: 24, fontSize: 13, lineHeight: "21px", paddingLeft: 5 }}>
        MACD(12,26,9)
      </div>
      <div
        style={{
          position: "absolute", left: 44, top: 674, width: 567, height: 33, boxSizing: "border-box",
          background: "#ffff00", border: "1px solid #000", color: "#000", fontFamily: FONT,
          fontSize: 22, lineHeight: "31px", paddingLeft: 7, whiteSpace: "nowrap", overflow: "hidden",
        }}
      >
        缠论自动画线、买卖点自动推送：www.crazychanlun.com
      </div>
    </div>
  );
}
